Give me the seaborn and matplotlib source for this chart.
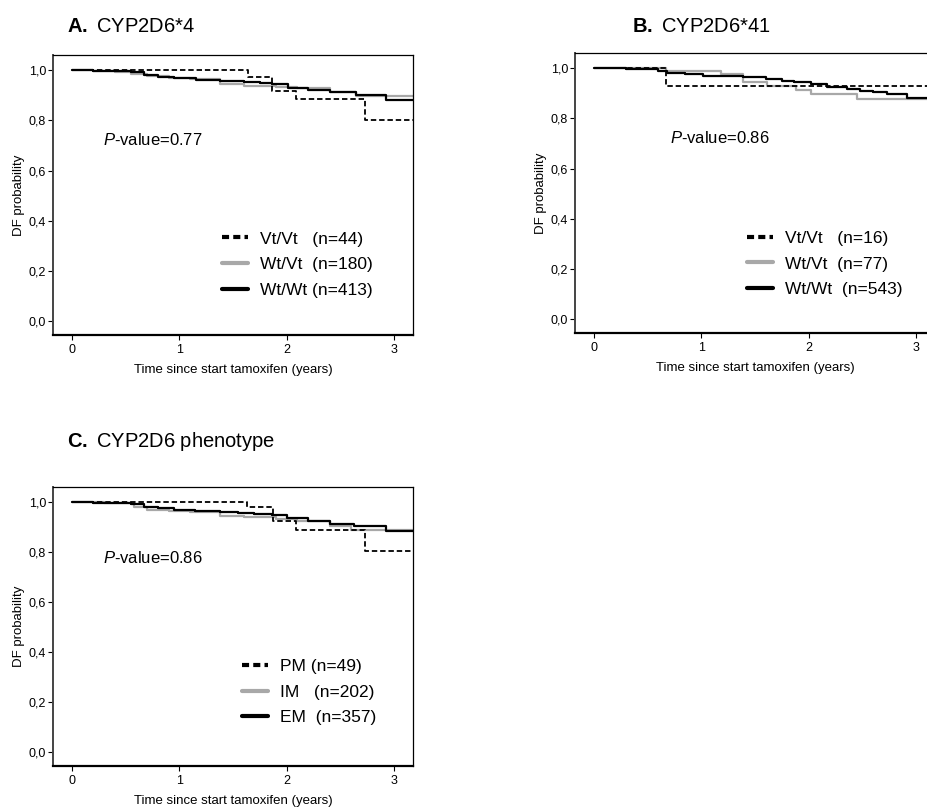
import matplotlib
matplotlib.use("Agg")
import matplotlib.pyplot as plt
from matplotlib.ticker import FuncFormatter
import seaborn as sns

# Kaplan-Meier step data (time in years, DF probability)
a_vt_t = [0, 1.64, 1.86, 2.09, 2.73, 3.2]
a_vt_s = [1.0, 0.974, 0.918, 0.886, 0.803, 0.803]
a_wv_t = [0, 0.2, 0.4, 0.55, 0.7, 0.9, 1.1, 1.38, 1.6, 1.9, 2.1, 2.4, 2.65, 3.2]
a_wv_s = [1.0, 0.997, 0.992, 0.985, 0.975, 0.97, 0.963, 0.943, 0.938, 0.933,
          0.928, 0.912, 0.897, 0.897]
a_ww_t = [0, 0.2, 0.4, 0.55, 0.67, 0.8, 0.95, 1.16, 1.38, 1.6, 1.75, 1.86,
          2.01, 2.2, 2.4, 2.65, 2.93, 3.2]
a_ww_s = [1.0, 0.998, 0.995, 0.992, 0.979, 0.973, 0.967, 0.96, 0.956, 0.952,
          0.948, 0.943, 0.93, 0.922, 0.913, 0.9, 0.88, 0.88]

b_vt_t = [0, 0.675, 3.3]
b_vt_s = [1.0, 0.928, 0.928]
b_wv_t = [0, 0.675, 1.18, 1.39, 1.61, 1.88, 2.02, 2.45, 3.3]
b_wv_s = [1.0, 0.988, 0.976, 0.945, 0.928, 0.911, 0.895, 0.876, 0.876]
b_ww_t = [0, 0.3, 0.49, 0.6, 0.68, 0.85, 1.02, 1.2, 1.39, 1.46, 1.6, 1.75,
          1.86, 2.02, 2.17, 2.36, 2.48, 2.6, 2.73, 2.92, 3.3]
b_ww_s = [1.0, 0.998, 0.996, 0.988, 0.979, 0.975, 0.97, 0.968, 0.966, 0.963,
          0.956, 0.95, 0.945, 0.935, 0.926, 0.915, 0.91, 0.906, 0.896, 0.88, 0.88]

c_pm_t = [0, 1.63, 1.87, 2.09, 2.73, 3.2]
c_pm_s = [1.0, 0.979, 0.923, 0.887, 0.806, 0.806]
c_im_t = [0, 0.3, 0.58, 0.7, 0.9, 1.1, 1.38, 1.6, 1.9, 2.1, 2.4, 2.6, 3.2]
c_im_s = [1.0, 0.996, 0.98, 0.97, 0.966, 0.962, 0.943, 0.94, 0.932, 0.925,
          0.906, 0.89, 0.888]
c_em_t = [0, 0.2, 0.4, 0.55, 0.67, 0.8, 0.95, 1.15, 1.38, 1.55, 1.7, 1.86,
          2.0, 2.2, 2.4, 2.63, 2.93, 3.2]
c_em_s = [1.0, 0.998, 0.995, 0.992, 0.98, 0.975, 0.97, 0.966, 0.962, 0.958,
          0.953, 0.947, 0.935, 0.925, 0.913, 0.906, 0.886, 0.886]

a_labels = ["Vt/Vt   (n=44)", "Wt/Vt  (n=180)", "Wt/Wt (n=413)"]
b_labels = ["Vt/Vt   (n=16)", "Wt/Vt  (n=77)", "Wt/Wt  (n=543)"]
c_labels = ["PM (n=49)", "IM   (n=202)", "EM  (n=357)"]

sns.set_style("ticks")
plt.rcParams["font.family"] = ["Liberation Sans", "DejaVu Sans"]
plt.rcParams["mathtext.fontset"] = "custom"
plt.rcParams["mathtext.rm"] = "Liberation Sans"
plt.rcParams["mathtext.it"] = "Liberation Sans:italic"
plt.rcParams["mathtext.bf"] = "Liberation Sans:bold"
for key in ["text.color", "axes.labelcolor", "xtick.color", "ytick.color"]:
    plt.rcParams[key] = "black"

W, H = 928, 810
fig = plt.figure(figsize=(W / 100, H / 100), dpi=100)


def px_axes(left, top, width, height):
    return fig.add_axes([left / W, 1 - (top + height) / H, width / W, height / H])


GRAY = "#a8a8a8"
DASH = (0, (3.0, 1.6))


def panel(ax, curves, labels, pval, p_xy, leg_xy):
    (t1, s1), (t2, s2), (t3, s3) = curves
    sns.lineplot(x=t2, y=s2, ax=ax, color=GRAY, linewidth=1.6, drawstyle="steps-post",
                 estimator=None, sort=False, label=labels[1])
    sns.lineplot(x=t3, y=s3, ax=ax, color="black", linewidth=1.6, drawstyle="steps-post",
                 estimator=None, sort=False, label=labels[2])
    sns.lineplot(x=t1, y=s1, ax=ax, color="black", linewidth=1.3, linestyle=DASH,
                 drawstyle="steps-post", estimator=None, sort=False, label=labels[0])
    ax.set_xlim(-0.177, 3.178)
    ax.set_ylim(-0.054, 1.06)
    ax.set_xticks([0, 1, 2, 3])
    ax.set_yticks([0, 0.2, 0.4, 0.6, 0.8, 1.0])
    ax.yaxis.set_major_formatter(FuncFormatter(lambda v, _: f"{v:.1f}".replace(".", ",")))
    ax.tick_params(axis="both", length=3.5, width=0.8, pad=1.5, labelsize=9,
                   colors="black")
    ax.tick_params(axis="x", pad=3)
    for side in ["top", "right"]:
        ax.spines[side].set_visible(True)
        ax.spines[side].set_linewidth(0.9)
        ax.spines[side].set_color("black")
    ax.spines["left"].set_linewidth(1.4)
    ax.spines["left"].set_color("#444444")
    ax.spines["bottom"].set_linewidth(1.6)
    ax.spines["bottom"].set_color("black")
    ax.set_xlabel("Time since start tamoxifen (years)", fontsize=9.5, labelpad=6)
    ax.set_ylabel("DF probability", fontsize=9.5, labelpad=3)
    ax.text(p_xy[0], p_xy[1], r"$\mathit{P}$-value=" + pval, transform=ax.transAxes,
            fontsize=12, ha="left", va="center")
    handles, labs = ax.get_legend_handles_labels()
    order = [labs.index(l) for l in labels]
    leg = ax.legend([handles[i] for i in order], [labs[i] for i in order],
                    loc="upper left", bbox_to_anchor=leg_xy, frameon=False,
                    fontsize=12.5, handlelength=1.5, handletextpad=0.7,
                    labelspacing=0.6, borderpad=0, borderaxespad=0)
    lines = leg.get_lines()
    for line in lines:
        line.set_linewidth(3)
    lines[0].set_linestyle((0, (1.7, 1.0)))


ax_a = px_axes(53, 55, 360, 280)
panel(ax_a, [(a_vt_t, a_vt_s), (a_wv_t, a_wv_s), (a_ww_t, a_ww_s)], a_labels,
      "0.77", (0.14, 0.696), (0.47, 0.37))

ax_b = px_axes(575, 53, 360, 280)
panel(ax_b, [(b_vt_t, b_vt_s), (b_wv_t, b_wv_s), (b_ww_t, b_ww_s)], b_labels,
      "0.86", (0.264, 0.695), (0.477, 0.365))

ax_c = px_axes(53, 487, 360, 279)
panel(ax_c, [(c_pm_t, c_pm_s), (c_im_t, c_im_s), (c_em_t, c_em_s)], c_labels,
      "0.86", (0.14, 0.744), (0.524, 0.383))

title_kw = dict(fontsize=14.5, ha="left", va="baseline")
fig.text(67 / W, 1 - 31.7 / H, r"$\mathbf{A.}$ CYP2D6*4", **title_kw)
fig.text(632 / W, 1 - 31.7 / H, r"$\mathbf{B.}$ CYP2D6*41", **title_kw)
fig.text(67 / W, 1 - 447 / H, r"$\mathbf{C.}$ CYP2D6 phenotype", **title_kw)

fig.savefig("out.png", dpi=100, facecolor="white")
